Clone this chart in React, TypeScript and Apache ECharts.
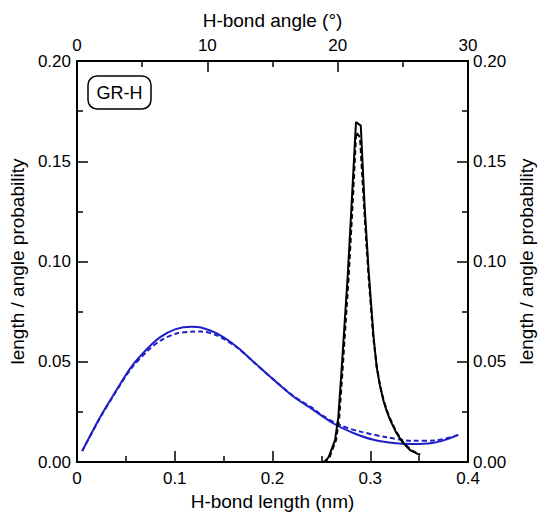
import React, { useEffect, useRef } from "react";
import * as echarts from "echarts";

// H-bond length distribution (nm) — black curves, bottom axis
const lengthSolidX = [0.252, 0.254, 0.2574, 0.264, 0.2673, 0.2704, 0.2771, 0.2813, 0.2854, 0.2903, 0.2943, 0.2985, 0.3034, 0.3067, 0.31, 0.3133, 0.3166, 0.3199, 0.3264, 0.333, 0.3412, 0.351];
const lengthSolidY = [0.0, 0.0005, 0.0025, 0.011, 0.0224, 0.044, 0.0943, 0.132, 0.1695, 0.1678, 0.127, 0.0943, 0.0625, 0.047, 0.038, 0.031, 0.0258, 0.0215, 0.0148, 0.0099, 0.0058, 0.0035];
const lengthDashX = [0.252, 0.2555, 0.2584, 0.265, 0.2683, 0.2714, 0.2779, 0.2819, 0.2856, 0.2895, 0.2937, 0.298, 0.303, 0.3067, 0.31, 0.3135, 0.3168, 0.3203, 0.3268, 0.3335, 0.3415, 0.351];
const lengthDashY = [0.0, 0.001, 0.0025, 0.011, 0.0224, 0.044, 0.0925, 0.128, 0.1645, 0.162, 0.127, 0.0943, 0.0625, 0.0472, 0.0382, 0.0312, 0.026, 0.0217, 0.015, 0.01, 0.006, 0.0037];

// H-bond angle distribution (degrees) — blue curves, top axis
const angleSolidX = [0.4, 1.75, 2.96, 4.17, 5.39, 6.36, 7.57, 8.79, 9.51, 10.8, 12.3, 13.7, 15.2, 16.6, 18.1, 19.75, 21.25, 22.75, 24.25, 25.75, 27.25, 28.25, 29.25];
const angleSolidY = [0.0055, 0.0221, 0.0352, 0.0475, 0.0565, 0.0622, 0.0663, 0.0675, 0.0671, 0.0639, 0.0573, 0.0491, 0.0404, 0.0327, 0.0262, 0.019, 0.0144, 0.0111, 0.0095, 0.009, 0.0095, 0.0111, 0.0136];
const angleDashX = [0.4, 1.75, 2.96, 4.17, 5.39, 6.36, 7.57, 8.79, 9.51, 10.8, 12.3, 13.7, 15.2, 16.6, 18.1, 18.75, 20.25, 21.75, 23.75, 25.75, 27.5, 29.25];
const angleDashY = [0.0055, 0.0218, 0.0348, 0.0468, 0.0553, 0.0604, 0.064, 0.065, 0.0651, 0.063, 0.057, 0.049, 0.0405, 0.033, 0.0268, 0.0235, 0.0182, 0.0152, 0.0124, 0.0106, 0.0108, 0.0136];

const FONT = "Liberation Sans, Arial, Helvetica, sans-serif";
const BLUE = "#1f1fc8";

const pairs = (xs: number[], ys: number[]) => xs.map((x, i) => [x, ys[i]]);

export default function App() {
  const ref = useRef<HTMLDivElement>(null);
  useEffect(() => {
    if (!ref.current) return;
    const chart = echarts.init(ref.current, undefined, { renderer: "svg" });
    const axisCommon = {
      axisLine: { show: true, onZero: false, lineStyle: { color: "#000", width: 2 } },
      axisTick: { show: true, inside: true, length: 11, lineStyle: { color: "#000", width: 1.5 } },
      minorTick: { show: true, splitNumber: 2, length: 6, lineStyle: { color: "#000", width: 1.5 } },
      splitLine: { show: false },
      minorSplitLine: { show: false },
    };
    const titleStyle = { color: "#000", fontSize: 19, fontFamily: FONT };
    const tickLabel = { color: "#000", fontSize: 17, fontFamily: FONT };
    chart.setOption({
      animation: false,
      backgroundColor: "#fff",
      grid: { left: 72, right: 63, top: 61, bottom: 47, containLabel: false },
      xAxis: [
        {
          ...axisCommon,
          type: "value",
          position: "bottom",
          min: 0,
          max: 0.4,
          interval: 0.1,
          name: "H-bond length (nm)",
          nameLocation: "middle",
          nameGap: 28,
          nameTextStyle: titleStyle,
          axisLabel: { ...tickLabel, margin: 8 },
        },
        {
          ...axisCommon,
          type: "value",
          position: "top",
          min: 0,
          max: 30,
          interval: 10,
          name: "H-bond angle (°)",
          nameLocation: "middle",
          nameGap: 31,
          nameTextStyle: titleStyle,
          axisLabel: { ...tickLabel, margin: 7 },
        },
      ],
      yAxis: [
        {
          ...axisCommon,
          type: "value",
          position: "left",
          min: 0,
          max: 0.2,
          interval: 0.05,
          name: "length / angle probability",
          nameLocation: "middle",
          nameRotate: 90,
          nameGap: 44,
          nameTextStyle: titleStyle,
          axisLabel: { ...tickLabel, margin: 6, formatter: (v: number) => v.toFixed(2) },
        },
        {
          ...axisCommon,
          type: "value",
          position: "right",
          min: 0,
          max: 0.2,
          interval: 0.05,
          name: "length / angle probability",
          nameLocation: "middle",
          nameRotate: 90,
          nameGap: 44,
          nameTextStyle: titleStyle,
          axisLabel: { ...tickLabel, margin: 5, formatter: (v: number) => v.toFixed(2) },
        },
      ],
      series: [
        {
          type: "line",
          xAxisIndex: 1,
          yAxisIndex: 0,
          data: pairs(angleSolidX, angleSolidY),
          showSymbol: false,
          smooth: 0.3,
          lineStyle: { color: BLUE, width: 2 },
        },
        {
          type: "line",
          xAxisIndex: 1,
          yAxisIndex: 0,
          data: pairs(angleDashX, angleDashY),
          showSymbol: false,
          smooth: 0.3,
          lineStyle: { color: BLUE, width: 2, type: [5, 3] },
        },
        {
          type: "line",
          xAxisIndex: 0,
          yAxisIndex: 0,
          data: pairs(lengthSolidX, lengthSolidY),
          showSymbol: false,
          lineStyle: { color: "#000", width: 2 },
        },
        {
          type: "line",
          xAxisIndex: 0,
          yAxisIndex: 0,
          data: pairs(lengthDashX, lengthDashY),
          showSymbol: false,
          lineStyle: { color: "#000", width: 2, type: [5, 3] },
        },
      ],
      graphic: [
        {
          type: "rect",
          shape: { x: 88, y: 76, width: 63, height: 33, r: 9 },
          style: { fill: "#fff", stroke: "#000", lineWidth: 1.5 },
          z: 100,
        },
        {
          type: "text",
          x: 119.5,
          y: 92.5,
          style: { text: "GR-H", fill: "#000", fontSize: 18, fontFamily: FONT, align: "center", verticalAlign: "middle" },
          z: 101,
        },
      ],
    });
    return () => chart.dispose();
  }, []);
  return <div ref={ref} style={{ position: "fixed", left: 0, top: 0, width: 544, height: 516 }} />;
}
